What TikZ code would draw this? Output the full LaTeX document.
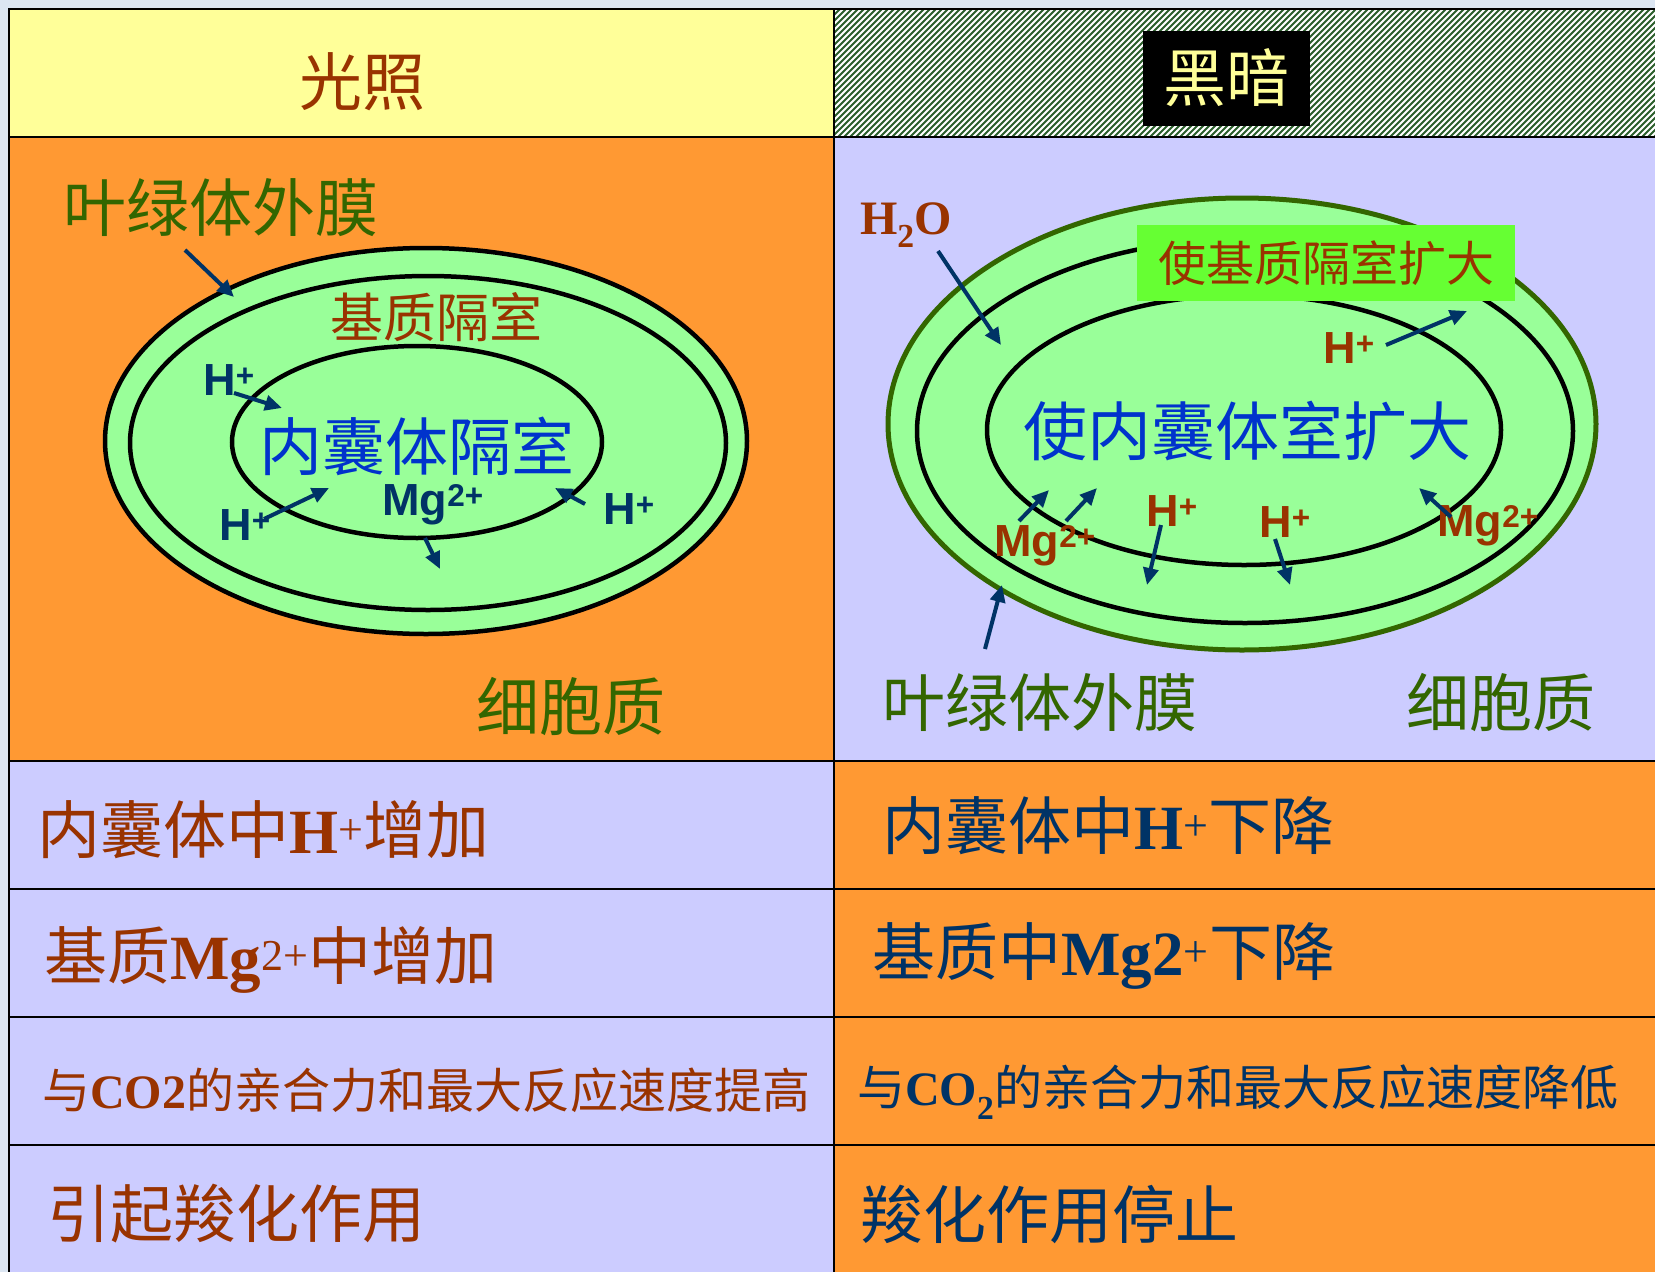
\documentclass[tikz,border=0pt]{standalone}
\usepackage{fontspec}
\setmainfont{Liberation Serif}
\newfontfamily\cjk{Noto Sans CJK SC}
\newfontfamily\arial{Liberation Sans}
\usetikzlibrary{arrows.meta}
\definecolor{brn}{HTML}{993300}
\definecolor{navy}{HTML}{003366}
\definecolor{blu}{HTML}{0033CC}
\definecolor{leaf}{HTML}{336600}
\definecolor{paleyel}{HTML}{FFFF99}
\definecolor{orng}{HTML}{FF9933}
\definecolor{lav}{HTML}{CCCCFF}
\definecolor{memb}{HTML}{99FF99}
\definecolor{boxgreen}{HTML}{66FF33}
\definecolor{hatch}{HTML}{2B5E2B}
\definecolor{slide}{HTML}{DCE6F2}
\newcommand\lat[1]{{\normalfont\bfseries #1}}
\begin{document}
\begin{tikzpicture}[x=1pt,y=-1pt,
  zh/.style={font=\cjk\fontsize{#1}{#1}\selectfont, inner sep=0pt},
  zh/.default=63,
  ion/.style={font=\arial\bfseries\fontsize{45}{45}\selectfont, inner sep=0pt},
  rowtxt/.style={font=\fontsize{#1}{#1}\selectfont, inner sep=0pt, anchor=west},
  rowtxt/.default=63,
  arr/.style={draw=navy, line width=4pt, -{Triangle[length=17pt,width=15pt]}},
  grid/.style={draw=black, line width=2pt},
  memline/.style={draw=black, line width=4.5pt}]
\useasboundingbox (0,0) rectangle (1655,1272);
% slide background
\fill[slide] (0,0) rectangle (1655,1272);

% ---- cell fills ----
\fill[paleyel] (9,9) rectangle (834,137);
\fill[orng] (9,137) rectangle (834,761);
\fill[lav] (834,137) rectangle (1655,761);
\fill[lav] (9,761) rectangle (834,1272);
\fill[orng] (834,761) rectangle (1655,1272);

% hatched header cell
\begin{scope}
  \clip (834,9) rectangle (1655,137);
  \fill[white] (834,9) rectangle (1655,137);
  \foreach \i in {700,706,...,1680}
    \draw[hatch, line width=2pt] (\i,137) -- (\i+128,9);
\end{scope}

% ---- grid lines ----
\draw[grid] (1655,9) -- (9,9) -- (9,1272);
\draw[grid] (834,9) -- (834,1272);
\foreach \yy in {137,761,889,1017,1145}
  \draw[grid] (9,\yy) -- (1655,\yy);

% ---- header ----
\node[zh, text=brn] (light) at (362,82) {光照};
\node[fill=black, minimum width=167pt, minimum height=95pt, inner sep=0pt] (darkbox) at (1226,78) {};
\node[zh, text=paleyel] (dark) at (darkbox.center) {黑暗};

% ---- light: chloroplast ----
\filldraw[fill=memb, memline] (426,441) ellipse [x radius=321pt, y radius=193pt];
\draw[memline] (428,443) ellipse [x radius=298pt, y radius=167pt];
\draw[memline] (417,442) ellipse [x radius=185pt, y radius=96pt];

\node[zh, text=leaf, anchor=west] (Lmem) at (63,208) {叶绿体外膜};
\node[zh=53, text=brn] (Lstroma) at (436,317) {基质隔室};
\node[zh, text=blu] (Llumen) at (417,446) {内囊体隔室};
\node[zh, text=leaf] (Lcyto) at (571,707) {细胞质};

\node[ion, text=navy] (LH1) at (229,380) {H\textsuperscript{+}};
\node[ion, text=navy] (LH2) at (245,525) {H\textsuperscript{+}};
\node[ion, text=navy] (LMg) at (433,505) {Mg\textsuperscript{2+}};
\node[ion, text=navy] (LH3) at (629,509) {H\textsuperscript{+}};

\coordinate (la0) at (185,250); \coordinate (la1) at (234,297);
\coordinate (lb0) at (234,393); \coordinate (lb1) at (282,408);
\coordinate (lc0) at (264,519); \coordinate (lc1) at (329,488);
\coordinate (ld0) at (425,538); \coordinate (ld1) at (440,569);
\coordinate (le0) at (585,504); \coordinate (le1) at (555,488);
\draw[arr] (la0) -- (la1);
\draw[arr] (lb0) -- (lb1);
\draw[arr] (lc0) -- (lc1);
\draw[arr] (ld0) -- (ld1);
\draw[arr] (le0) -- (le1);

% ---- dark: chloroplast ----
\filldraw[fill=memb, draw=leaf, line width=5pt] (1242,424) ellipse [x radius=354pt, y radius=226pt];
\draw[memline] (1245,431) ellipse [x radius=328pt, y radius=192pt];
\draw[memline] (1244,430) ellipse [x radius=257pt, y radius=135pt];
\node[fill=boxgreen, minimum width=378pt, minimum height=76pt, inner sep=0pt] (gbox) at (1326,263) {};
\node[zh=48, text=brn] (Rstroma) at (gbox.center) {使基质隔室扩大};

\node[font=\fontsize{48}{48}\selectfont\bfseries, text=brn, inner sep=0pt] (water) at (906,225) {H\textsubscript{2}O};
\node[zh=64, text=blu] (Rlumen) at (1247,431) {使内囊体室扩大};
\node[zh, text=leaf] (Rmem) at (1040,703) {叶绿体外膜};
\node[zh, text=leaf] (Rcyto) at (1501,703) {细胞质};

\node[ion, text=brn] (RH1) at (1349,348) {H\textsuperscript{+}};
\node[ion, text=brn] (RMg1) at (1045,546) {Mg\textsuperscript{2+}};
\node[ion, text=brn] (RH2) at (1172,511) {H\textsuperscript{+}};
\node[ion, text=brn] (RH3) at (1285,522) {H\textsuperscript{+}};
\node[ion, text=brn] (RMg2) at (1488,526) {Mg\textsuperscript{2+}};

\coordinate (ra0) at (938,251);  \coordinate (ra1) at (1001,345);
\coordinate (rb0) at (1386,345); \coordinate (rb1) at (1467,311);
\coordinate (rc0) at (1019,521); \coordinate (rc1) at (1049,490);
\coordinate (rd0) at (1066,521); \coordinate (rd1) at (1097,488);
\coordinate (re0) at (1161,525); \coordinate (re1) at (1147,585);
\coordinate (rf0) at (1275,539); \coordinate (rf1) at (1290,585);
\coordinate (rg0) at (1451,517); \coordinate (rg1) at (1419,488);
\coordinate (rh0) at (985,649);  \coordinate (rh1) at (1002,585);
\draw[arr] (ra0) -- (ra1);
\draw[arr] (rb0) -- (rb1);
\draw[arr] (rc0) -- (rc1);
\draw[arr] (rd0) -- (rd1);
\draw[arr] (re0) -- (re1);
\draw[arr] (rf0) -- (rf1);
\draw[arr] (rg0) -- (rg1);
\draw[arr] (rh0) -- (rh1);

% ---- comparison rows ----
\node[rowtxt, text=brn] (l1) at (37,830) {{\cjk 内囊体中}\lat{H}\textsuperscript{+}{\cjk 增加}};
\node[rowtxt, text=navy] (r1) at (882,826) {{\cjk 内囊体中}\lat{H}\textsuperscript{+}{\cjk 下降}};
\node[rowtxt, text=brn] (l2) at (44,960) {{\cjk 基质}\lat{Mg}\textsuperscript{2+}{\cjk 中增加}};
\node[rowtxt, text=navy] (r2) at (872,956) {{\cjk 基质中}\lat{Mg2}\textsuperscript{+}{\cjk 下降}};
\node[rowtxt=48, text=brn] (l3) at (42,1090) {{\cjk 与}\lat{CO2}{\cjk 的亲合力和最大反应速度提高}};
\node[rowtxt=48, text=navy] (r3) at (857,1092) {{\cjk 与}\lat{CO\textsubscript{2}}{\cjk 的亲合力和最大反应速度降低}};
\node[rowtxt, text=brn] (l4) at (47,1214) {\cjk 引起羧化作用};
\node[rowtxt, text=navy] (r4) at (860,1214) {\cjk 羧化作用停止};
\end{tikzpicture}
\end{document}
